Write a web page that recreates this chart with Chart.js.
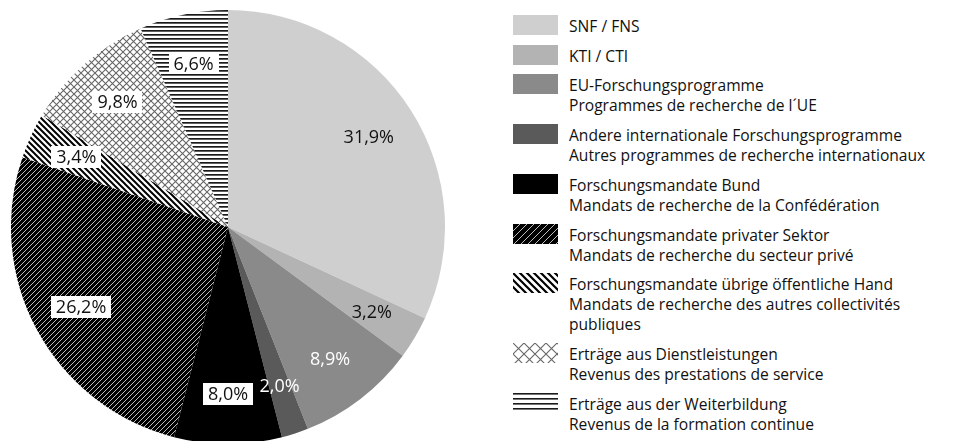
<!DOCTYPE html>
<html>
<head>
<meta charset="utf-8">
<script src="https://cdn.jsdelivr.net/npm/chart.js@4"></script>
<style>
html, body { margin: 0; padding: 0; background: #fff; width: 958px; height: 441px; overflow: hidden; }
#pieBox { position: absolute; left: 11px; top: 10px; width: 434px; height: 434px; }
#legend { position: absolute; left: 0; top: 0; font-family: "Open Sans", sans-serif; font-size: 15.6px; color: #111; }
.item { position: absolute; left: 513px; }
.item canvas { position: absolute; left: 0; }
.item div { position: absolute; left: 56px; white-space: nowrap; line-height: 20px; }
</style>
</head>
<body>
<div id="pieBox"><canvas id="FundingPieChart"></canvas></div>
<div id="legend"></div>
<script>
// categories, two languages per entry (german / french)
const categories = [
    ['SNF / FNS'],
    ['KTI / CTI'],
    ['EU-Forschungsprogramme', 'Programmes de recherche de l´UE'],
    ['Andere internationale Forschungsprogramme', 'Autres programmes de recherche internationaux'],
    ['Forschungsmandate Bund', 'Mandats de recherche de la Confédération'],
    ['Forschungsmandate privater Sektor', 'Mandats de recherche du secteur privé'],
    ['Forschungsmandate übrige öffentliche Hand', 'Mandats de recherche des autres collectivités', 'publiques'],
    ['Erträge aus Dienstleistungen', 'Revenus des prestations de service'],
    ['Erträge aus der Weiterbildung', 'Revenus de la formation continue']
];
const shares = [31.9, 3.2, 8.9, 2.0, 8.0, 26.2, 3.4, 9.8, 6.6];
const shareLabels = ['31,9%', '3,2%', '8,9%', '2,0%', '8,0%', '26,2%', '3,4%', '9,8%', '6,6%'];

// fill kinds: solid colour or pattern name
const fillKinds = ['#cfcfcf', '#b3b3b3', '#8a8a8a', '#5a5a5a', '#000000', 'slash', 'backslash', 'cross', 'hlines'];
// how the percent label is drawn: dark text, light text, boxed
const labelModes = ['dark', 'dark', 'light', 'light', 'box', 'box', 'box', 'box', 'box'];


function makePattern(kind, big) {
    const c = document.createElement('canvas');
    const g = c.getContext('2d');
    let p;
    if (kind === 'slash') {
        p = big ? 7 : 5;
        c.width = p; c.height = p;
        g.fillStyle = '#000'; g.fillRect(0, 0, p, p);
        g.strokeStyle = '#bdbdbd'; g.lineWidth = 1;
        g.beginPath();
        g.moveTo(0, p); g.lineTo(p, 0);
        g.moveTo(-1, 1); g.lineTo(1, -1);
        g.moveTo(p - 1, p + 1); g.lineTo(p + 1, p - 1);
        g.stroke();
    } else if (kind === 'backslash') {
        p = big ? 7 : 6;
        c.width = p; c.height = p;
        g.fillStyle = '#fff'; g.fillRect(0, 0, p, p);
        g.strokeStyle = '#000'; g.lineWidth = big ? 2.2 : 2;
        g.beginPath();
        g.moveTo(0, 0); g.lineTo(p, p);
        g.moveTo(-1, p - 1); g.lineTo(1, p + 1);
        g.moveTo(p - 1, -1); g.lineTo(p + 1, 1);
        g.stroke();
    } else if (kind === 'cross') {
        p = big ? 11 : 7;
        c.width = p; c.height = p;
        g.fillStyle = '#fff'; g.fillRect(0, 0, p, p);
        g.strokeStyle = '#666'; g.lineWidth = 1.1;
        g.beginPath();
        g.moveTo(0, 0); g.lineTo(p, p);
        g.moveTo(0, p); g.lineTo(p, 0);
        g.stroke();
    } else {
        p = big ? 5 : 4;
        c.width = p; c.height = p;
        g.fillStyle = '#fff'; g.fillRect(0, 0, p, p);
        g.fillStyle = '#1a1a1a'; g.fillRect(0, 0, p, big ? 1.6 : 1.7);
    }
    return g.createPattern(c, 'repeat');
}

function fillFor(kind, big) {
    return kind.startsWith('#') ? kind : makePattern(kind, big);
}


const pctLabels = {
    id: 'pctLabels',
    afterDatasetsDraw(chart) {
        const ctx = chart.ctx;
        const meta = chart.getDatasetMeta(0);
        ctx.save();
        ctx.font = '18px "Open Sans", sans-serif';
        ctx.textAlign = 'center';
        ctx.textBaseline = 'middle';
        meta.data.forEach((arc, i) => {
            const p = arc.getProps(['x', 'y', 'startAngle', 'endAngle', 'outerRadius']);
            const a = (p.startAngle + p.endAngle) / 2;
            const r = p.outerRadius * 0.77;
            const x = p.x + Math.cos(a) * r;
            const y = p.y + Math.sin(a) * r;
            const txt = shareLabels[i];
            if (labelModes[i] === 'box') {
                const w = ctx.measureText(txt).width + 10;
                ctx.fillStyle = '#fff';
                ctx.fillRect(Math.round(x - w / 2), Math.round(y - 11), Math.round(w), 22);
                ctx.fillStyle = '#111';
            } else {
                ctx.fillStyle = labelModes[i] === 'light' ? '#fff' : '#111';
            }
            ctx.fillText(txt, x, y + 1);
        });
        ctx.restore();
    }
};


function buildLegend() {
    const legend = document.getElementById('legend');
    let y = 26;
    categories.forEach((lines, i) => {
        const item = document.createElement('div');
        item.className = 'item';
        item.style.top = (y - 10) + 'px';
        const sw = document.createElement('canvas');
        sw.width = 45; sw.height = 20;
        sw.style.top = '-1px';
        const g = sw.getContext('2d');
        g.fillStyle = fillFor(fillKinds[i], true);
        g.fillRect(0, 0, 45, 20);
        item.appendChild(sw);
        const txt = document.createElement('div');
        txt.innerHTML = lines.join('<br>');
        item.appendChild(txt);
        legend.appendChild(item);
        y += lines.length * 20 + 9.7;
    });
}


function generateChart() {
    const context = document.getElementById('FundingPieChart').getContext('2d');
    new Chart(context, {
        type: 'pie',
        data: {
            labels: categories.map(c => c.join(' ')),
            datasets: [{
                data: shares,
                backgroundColor: fillKinds.map(k => fillFor(k, false)),
                borderWidth: 0
            }]
        },
        options: {
            responsive: true,
            maintainAspectRatio: false,
            animation: false,
            layout: { padding: 0 },
            plugins: {
                legend: { display: false },
                tooltip: { enabled: false }
            }
        },
        plugins: [pctLabels]
    });
}

buildLegend();
generateChart();
</script>
</body>
</html>
